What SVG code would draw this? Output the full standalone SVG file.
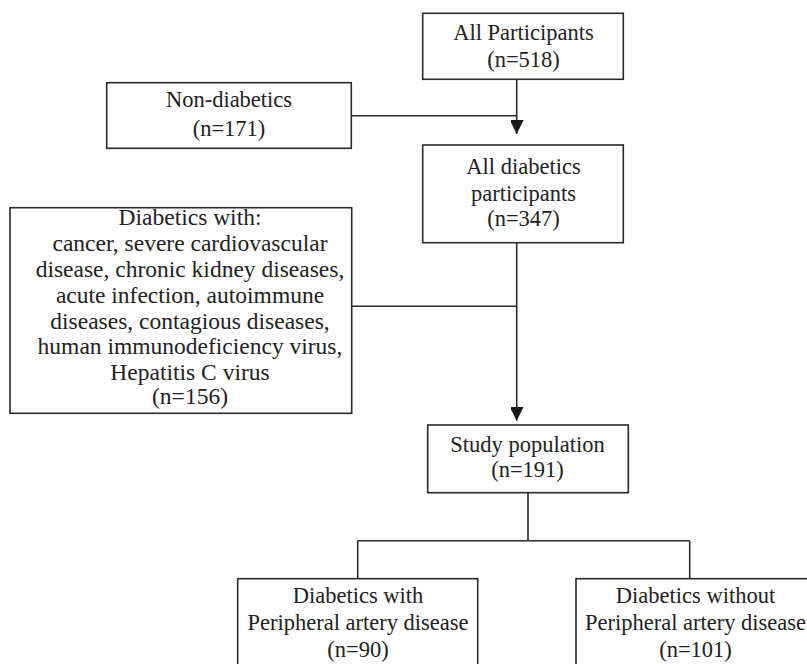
<svg xmlns="http://www.w3.org/2000/svg" width="807" height="664" viewBox="0 0 807 664">
<style>
.box{fill:#fff;stroke:#2a2a2a;stroke-width:1.6}
.ln{fill:none;stroke:#2a2a2a;stroke-width:1.6}
text{font-family:"Liberation Serif","Times New Roman",serif;font-size:22.5px;fill:#222;text-anchor:middle}
.big text{font-size:23.5px}
</style>
<defs>
<marker id="arr" markerWidth="15" markerHeight="13" refX="14" refY="7" orient="auto" markerUnits="userSpaceOnUse">
<path d="M0,0 L14,7 L0,14 Z" fill="#1a1a1a"/>
</marker>
</defs>
<rect width="807" height="664" fill="#fff"/>
<g id="connectors">
<path class="ln" d="M516.7,79.3 V134" marker-end="url(#arr)"/>
<path class="ln" d="M351.3,115.7 H516.7"/>
<path class="ln" d="M516.7,242.7 V420.7" marker-end="url(#arr)"/>
<path class="ln" d="M351.7,306.3 H516.7"/>
<path class="ln" d="M528,492.7 V540.7"/>
<path class="ln" d="M357.7,540.7 H689.7"/>
<path class="ln" d="M357.7,540.7 V578.7"/>
<path class="ln" d="M689.7,540.7 V578.7"/>
</g>
<g id="all-participants">
<rect class="box" x="422.7" y="13.3" width="200.6" height="66"/>
<text x="523.5" y="39.5">All Participants</text>
<text x="523.5" y="67">(n=518)</text>
</g>
<g id="non-diabetics">
<rect class="box" x="106.7" y="82.7" width="244.6" height="65.6"/>
<text x="229" y="107">Non-diabetics</text>
<text x="229" y="135.5">(n=171)</text>
</g>
<g id="all-diabetics">
<rect class="box" x="422.7" y="145" width="200.6" height="97.7"/>
<text x="523.5" y="174">All diabetics</text>
<text x="523.5" y="200.5">participants</text>
<text x="523.5" y="225.5">(n=347)</text>
</g>
<g id="excluded" class="big">
<rect class="box" x="10" y="207.7" width="341.7" height="205.6"/>
<text x="190" y="225">Diabetics with:</text>
<text x="190" y="251">cancer, severe cardiovascular</text>
<text x="190" y="276.5">disease, chronic kidney diseases,</text>
<text x="190" y="302.5">acute infection, autoimmune</text>
<text x="190" y="328.5">diseases, contagious diseases,</text>
<text x="190" y="354">human immunodeficiency virus,</text>
<text x="190" y="380">Hepatitis C virus</text>
<text x="190" y="404">(n=156)</text>
</g>
<g id="study-population">
<rect class="box" x="427.7" y="425" width="200.6" height="67.7"/>
<text x="527.5" y="452">Study population</text>
<text x="527.5" y="476.5">(n=191)</text>
</g>
<g id="with-pad">
<rect class="box" x="237.7" y="578.7" width="240" height="100"/>
<text x="358" y="603">Diabetics with</text>
<text x="358" y="630">Peripheral artery disease</text>
<text x="358" y="657">(n=90)</text>
</g>
<g id="without-pad">
<rect class="box" x="576" y="578.7" width="240" height="100"/>
<text x="695.5" y="603">Diabetics without</text>
<text x="695.5" y="630">Peripheral artery disease</text>
<text x="695.5" y="657">(n=101)</text>
</g>
</svg>
